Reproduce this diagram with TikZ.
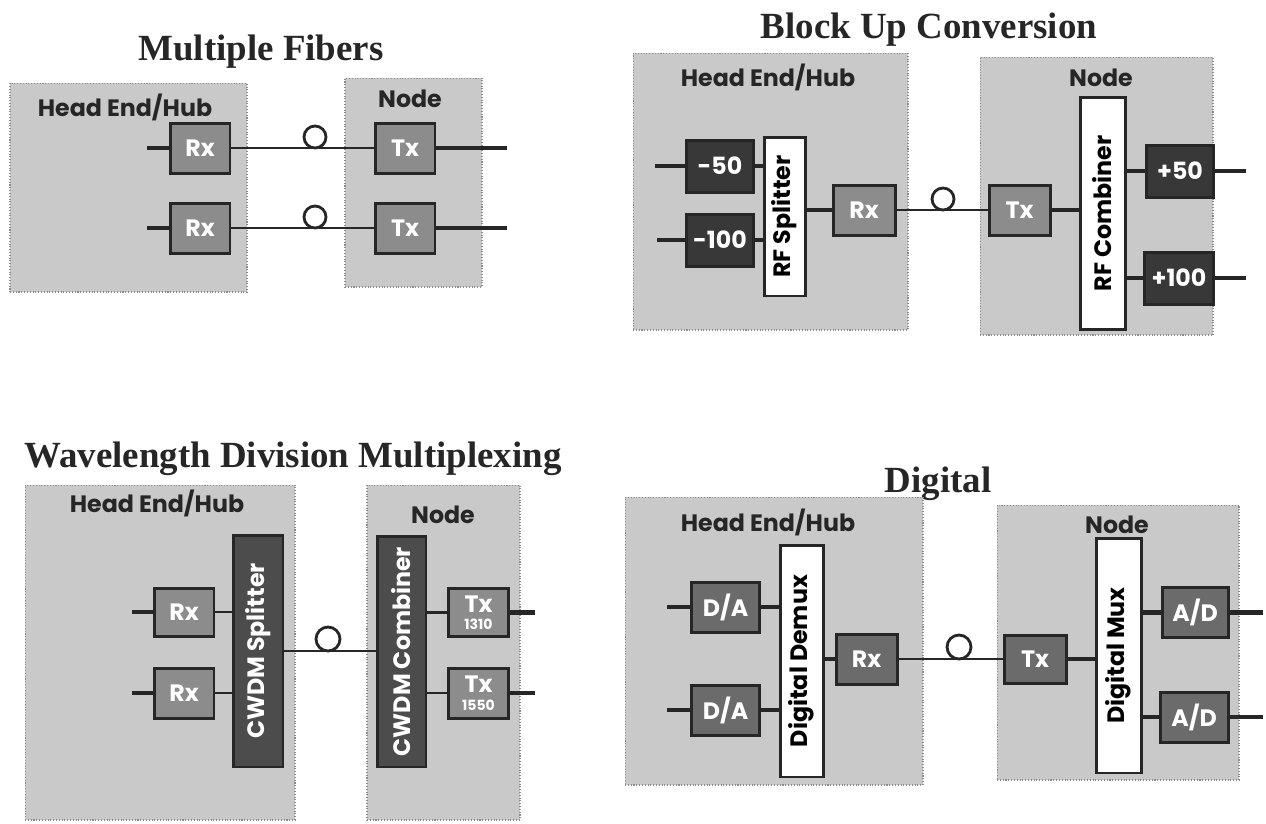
\documentclass[tikz,border=0pt]{standalone}
\usepackage{fontspec}
\setmainfont{Liberation Serif}
\setsansfont{Poppins}
\usepackage{graphicx}

\definecolor{panelgray}{gray}{0.79}
\definecolor{edgegray}{gray}{0.55}
\definecolor{boxgray}{gray}{0.55}
\definecolor{convgray}{gray}{0.42}
\definecolor{darkbox}{gray}{0.22}
\definecolor{cwdmgray}{gray}{0.3}
\definecolor{inkgray}{gray}{0.15}

\begin{document}
\begin{tikzpicture}[x=0.02cm, y=-0.02cm,
    panel/.style={rectangle, draw=edgegray, densely dotted, line width=0.6pt, fill=panelgray},
    panellabel/.style={font=\sffamily\bfseries\fontsize{13.5}{15}\selectfont, text=inkgray},
    title/.style={anchor=base, font=\rmfamily\bfseries\fontsize{21}{24}\selectfont, text=inkgray},
    trx/.style={rectangle, draw=inkgray, line width=1.7pt, fill=boxgray, inner sep=0pt, minimum width=1.2cm, minimum height=1.0cm, text=white, font=\sffamily\bfseries\fontsize{13.5}{15}\selectfont},
    shiftbox/.style={trx, fill=darkbox, minimum width=1.34cm, minimum height=1.04cm},
    convbox/.style={trx, fill=convgray, minimum width=1.36cm},
    whitebar/.style={rectangle, draw=inkgray, line width=1.7pt, fill=white, inner sep=0pt, minimum width=0.86cm, font=\sffamily\bfseries\fontsize{13.5}{15}\selectfont},
    cwdmbar/.style={whitebar, fill=cwdmgray, text=white, minimum width=1.0cm},
    wire/.style={draw=inkgray, line width=2.8pt},
    fiber/.style={draw=inkgray, line width=1.6pt},
    fiberloop/.style={circle, draw=inkgray, line width=1.6pt, minimum size=0.44cm, inner sep=0pt}
]
\useasboundingbox (0,0) rectangle (1266,823);

% Titles
\node[title] (title1) at (261,60) {Multiple Fibers};
\node[title] (title2) at (929,38) {Block Up Conversion};
\node[title] (title3) at (293,467) {Wavelength Division Multiplexing};
\node[title] (title4) at (938,492) {Digital};

% Panel 1 - multiple fibers
\node[panel, minimum width=4.74cm, minimum height=4.18cm] (hub1) at (128.5,187.5) {};
\node[panel, minimum width=2.74cm, minimum height=4.18cm] (node1) at (413.5,182.5) {};
\node[panellabel] (hub1label) at (125,107) {Head End/Hub};
\node[panellabel] (node1label) at (410,99) {Node};

\node[trx] (rx1a) at (200,148) {Rx};
\node[trx] (rx1b) at (200,228) {Rx};
\node[trx] (tx1a) at (405,148) {Tx};
\node[trx] (tx1b) at (405,228) {Tx};
\node[fiberloop] (loop1a) at (315,137) {};
\node[fiberloop] (loop1b) at (315,217) {};

\coordinate (in1a) at (147,148);
\coordinate (in1b) at (147,228);
\coordinate (out1a) at (507,148);
\coordinate (out1b) at (507,228);

\draw[wire] (in1a) -- (rx1a.west);
\draw[wire] (in1b) -- (rx1b.west);
\draw[fiber] (rx1a.east) -- (tx1a.west);
\draw[fiber] (rx1b.east) -- (tx1b.west);
\draw[wire] (tx1a.east) -- (out1a);
\draw[wire] (tx1b.east) -- (out1b);

% Panel 2 - block up conversion
\node[panel, minimum width=5.5cm, minimum height=5.54cm] (hub2) at (770.5,191.5) {};
\node[panel, minimum width=4.66cm, minimum height=5.56cm] (node2) at (1096.5,196) {};
\node[panellabel] (hub2label) at (768,77) {Head End/Hub};
\node[panellabel] (node2label) at (1101,78) {Node};

\node[shiftbox] (m50) at (720,166) {-50};
\node[shiftbox] (m100) at (720,240) {-100};
\node[whitebar, minimum width=0.82cm, minimum height=3.18cm] (splitter2) at (784.5,216.5) {\rotatebox{90}{RF Splitter}};
\node[trx, minimum width=1.24cm] (rx2) at (864,210) {Rx};
\node[fiberloop] (loop2) at (943,199) {};
\node[trx, minimum width=1.22cm] (tx2) at (1019.5,210) {Tx};
\node[whitebar, minimum width=0.9cm, minimum height=4.66cm] (combiner2) at (1102.5,213.5) {\rotatebox{90}{RF Combiner}};
\node[shiftbox] (p50) at (1180,171) {+50};
\node[shiftbox, minimum width=1.38cm] (p100) at (1179,278) {+100};

\coordinate (in2a) at (655,166);
\coordinate (in2b) at (657,240);
\coordinate (out2a) at (1246,171);
\coordinate (out2b) at (1246,278);

\draw[wire] (in2a) -- (m50.west);
\draw[wire] (in2b) -- (m100.west);
\draw[wire] (m50.east) -- (m50.east -| splitter2.west);
\draw[wire] (m100.east) -- (m100.east -| splitter2.west);
\draw[wire] (rx2.west -| splitter2.east) -- (rx2.west);
\draw[fiber] (rx2.east) -- (tx2.west);
\draw[wire] (tx2.east) -- (tx2.east -| combiner2.west);
\draw[wire] (p50.west -| combiner2.east) -- (p50.west);
\draw[wire] (p100.west -| combiner2.east) -- (p100.west);
\draw[wire] (p50.east) -- (out2a);
\draw[wire] (p100.east) -- (out2b);

% Panel 3 - wavelength division multiplexing
\node[panel, minimum width=5.4cm, minimum height=6.7cm] (hub3) at (160,652.5) {};
\node[panel, minimum width=3.06cm, minimum height=6.7cm] (node3) at (443.5,652.5) {};
\node[panellabel] (hub3label) at (157,503) {Head End/Hub};
\node[panellabel] (node3label) at (443,515) {Node};

\node[trx, minimum height=0.96cm] (rx3a) at (184,612) {Rx};
\node[trx] (rx3b) at (184,693) {Rx};
\node[cwdmbar, minimum height=4.64cm] (cwdmsplit) at (258,651) {\rotatebox{90}{CWDM Splitter}};
\node[fiberloop, minimum size=0.48cm] (loop3) at (328,639) {};
\node[cwdmbar, minimum width=0.98cm, minimum height=4.62cm] (cwdmcomb) at (401.5,651.5) {\rotatebox{90}{CWDM Combiner}};
\node[trx, minimum height=0.96cm, align=center] (tx3a) at (478.5,612.5) {Tx\\[-5pt]{\fontsize{8}{8}\selectfont 1310}};
\node[trx, align=center] (tx3b) at (478.5,693) {Tx\\[-5pt]{\fontsize{8}{8}\selectfont 1550}};

\coordinate (in3a) at (132,612);
\coordinate (in3b) at (132,693);
\coordinate (out3a) at (535,612.5);
\coordinate (out3b) at (535,693);

\draw[wire] (in3a) -- (rx3a.west);
\draw[wire] (in3b) -- (rx3b.west);
\draw[fiber] (rx3a.east) -- (rx3a.east -| cwdmsplit.west);
\draw[fiber] (rx3b.east) -- (rx3b.east -| cwdmsplit.west);
\draw[fiber] (cwdmsplit.east) -- (cwdmsplit.east -| cwdmcomb.west);
\draw[fiber] (tx3a.west -| cwdmcomb.east) -- (tx3a.west);
\draw[fiber] (tx3b.west -| cwdmcomb.east) -- (tx3b.west);
\draw[wire] (tx3a.east) -- (out3a);
\draw[wire] (tx3b.east) -- (out3b);

% Panel 4 - digital
\node[panel, minimum width=5.96cm, minimum height=5.76cm] (hub4) at (774,641) {};
\node[panel, minimum width=4.84cm, minimum height=5.5cm] (node4) at (1118,642.5) {};
\node[panellabel] (hub4label) at (768,522) {Head End/Hub};
\node[panellabel] (node4label) at (1117,525) {Node};

\node[convbox] (da1) at (725.5,607) {D/A};
\node[convbox] (da2) at (725.5,710) {D/A};
\node[whitebar, minimum height=4.64cm] (demux) at (801.5,661) {\rotatebox{90}{Digital Demux}};
\node[trx, fill=convgray, minimum width=1.22cm] (rx4) at (866.5,659) {Rx};
\node[fiberloop, minimum size=0.48cm] (loop4) at (959,647) {};
\node[trx, fill=convgray, minimum width=1.24cm, minimum height=0.96cm] (tx4) at (1035,659) {Tx};
\node[whitebar, minimum width=0.9cm, minimum height=4.7cm] (mux) at (1118.5,655.5) {\rotatebox{90}{Digital Mux}};
\node[convbox, minimum width=1.32cm] (ad1) at (1195,612.5) {A/D};
\node[convbox] (ad2) at (1194,717) {A/D};

\coordinate (in4a) at (667,607);
\coordinate (in4b) at (667,710);
\coordinate (out4a) at (1263,612.5);
\coordinate (out4b) at (1263,717);

\draw[wire] (in4a) -- (da1.west);
\draw[wire] (in4b) -- (da2.west);
\draw[wire] (da1.east) -- (da1.east -| demux.west);
\draw[wire] (da2.east) -- (da2.east -| demux.west);
\draw[wire] (rx4.west -| demux.east) -- (rx4.west);
\draw[fiber] (rx4.east) -- (tx4.west);
\draw[wire] (tx4.east) -- (tx4.east -| mux.west);
\draw[wire] (ad1.west -| mux.east) -- (ad1.west);
\draw[wire] (ad2.west -| mux.east) -- (ad2.west);
\draw[wire] (ad1.east) -- (out4a);
\draw[wire] (ad2.east) -- (out4b);

\end{tikzpicture}
\end{document}
